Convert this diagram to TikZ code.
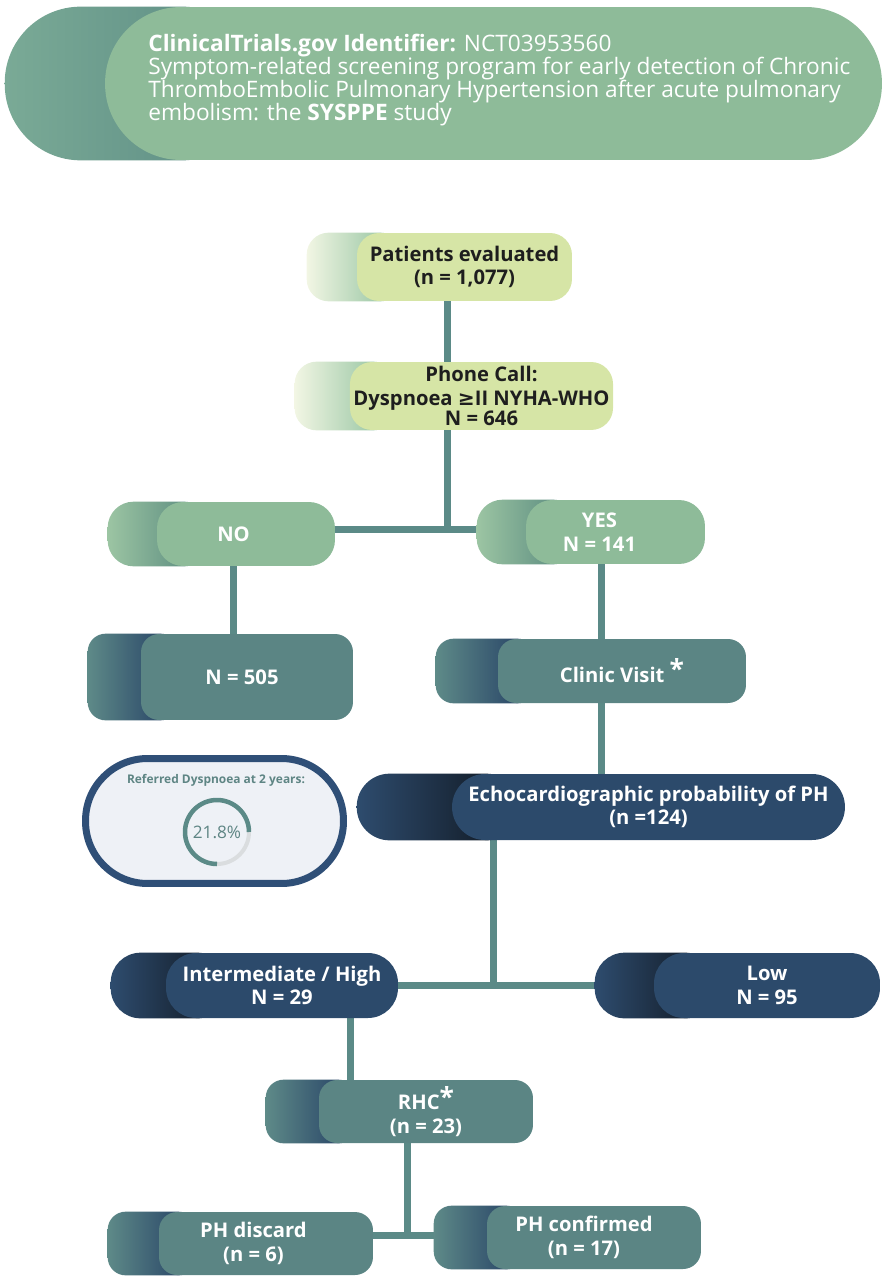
\documentclass[tikz,border=0pt]{standalone}
\usepackage{fontspec}
\setmainfont{Open Sans}
\newfontfamily\symfont{DejaVu Sans}
\usetikzlibrary{positioning}
\definecolor{ttlfront}{HTML}{8EBB99}
\definecolor{ttlbackA}{HTML}{7AAA96}
\definecolor{ttlbackB}{HTML}{5A8A83}
\definecolor{limefront}{HTML}{D6E5A6}
\definecolor{limebackA}{HTML}{F2F6E4}
\definecolor{limebackB}{HTML}{86BC96}
\definecolor{greenfront}{HTML}{8EBB99}
\definecolor{greenbackA}{HTML}{9CC5A3}
\definecolor{greenbackB}{HTML}{4F8179}
\definecolor{tealfront}{HTML}{5B8584}
\definecolor{tealbackA}{HTML}{5E8A88}
\definecolor{tealbackB}{HTML}{203A62}
\definecolor{navyfront}{HTML}{2C4A6B}
\definecolor{navybackA}{HTML}{2E4C6E}
\definecolor{navybackB}{HTML}{0E141C}
\definecolor{connteal}{HTML}{5B8A87}
\definecolor{panelfill}{HTML}{EEF1F6}
\definecolor{panelline}{HTML}{2F4F77}
\definecolor{paneltext}{HTML}{5E8584}
\definecolor{ringgray}{HTML}{DADDDF}
\definecolor{darktext}{HTML}{1E1E1E}
\pgfdeclarelayer{bg}
\pgfsetlayers{bg,main}
\tikzset{
    %Define style for boxes
    box/.style={
           rectangle,
           inner sep=2pt,
           align=center,
           font=\fontsize{11.5}{13.5}\selectfont\bfseries},
    titlebox/.style={
           rectangle,
           rounded corners=1.52cm,
           fill=ttlfront,
           minimum width=15.54cm,
           minimum height=3.06cm},
    titletext/.style={
           align=left,
           inner sep=0pt,
           text=white,
           font=\fontsize{12.9}{13.2}\selectfont},
    limebox/.style={
           box,
           rounded corners=.44cm,
           fill=limefront,
           text=darktext},
    greenbox/.style={
           box,
           rounded corners=.52cm,
           fill=greenfront,
           text=white},
    tealbox/.style={
           box,
           rounded corners=.36cm,
           fill=tealfront,
           text=white},
    navybox/.style={
           box,
           rounded corners=.6cm,
           fill=navyfront,
           text=white},
    % Define shading of the back layers
    ttlback/.style={left color=ttlbackA, right color=ttlbackB},
    limeback/.style={left color=limebackA, right color=limebackB},
    greenback/.style={left color=greenbackA, right color=greenbackB},
    tealback/.style={left color=tealbackA, right color=tealbackB},
    navyback/.style={left color=navybackA, right color=navybackB},
    % Define connector style
    conn/.style={
           draw=connteal,
           line width=.14cm},
    panel/.style={
           rectangle,
           rounded corners=1.24cm,
           draw=panelline,
           line width=.14cm,
           fill=panelfill},
    paneltxt/.style={
           inner sep=1pt,
           text=paneltext,
           font=\fontsize{6.8}{8}\selectfont\bfseries},
    pctlabel/.style={
           inner sep=1pt,
           text=paneltext,
           font=\fontsize{9.8}{11}\selectfont},
    ringbg/.style={draw=ringgray, line width=.08cm},
    ringfg/.style={draw=connteal, line width=.09cm}
}
\newcommand{\astx}{\raisebox{.35ex}{\fontsize{15}{15}\selectfont *}}
% pushes a centred line to the left
\newcommand{\lpad}[1]{\hspace*{#1}}

\begin{document}
\begin{tikzpicture}[x=0.02cm,y=-0.02cm]
\useasboundingbox (0,0) rectangle (890,1280);
% header
\node[titlebox](title) at (493.5,83.5){};
\node[titletext, anchor=west](titletxt) at (148,80){\textbf{ClinicalTrials.gov Identifier:} NCT03953560\\
Symptom-related screening program for early detection of Chronic\\
ThromboEmbolic Pulmonary Hypertension after acute pulmonary\\
embolism: the \textbf{SYSPPE} study};
% flow
\node[limebox, minimum width=4.3cm, minimum height=1.36cm](pe) at (464.5,267){Patients evaluated\\(n = 1,077)};
\node[limebox, minimum width=5.26cm, minimum height=1.36cm](pc) at (481.5,396){Phone Call:\\Dyspnoea {\symfont ≥}II NYHA-WHO\\[-2pt]N = 646};
\node[greenbox, minimum width=3.56cm, minimum height=1.28cm](no) at (246,534){NO\lpad{.5cm}};
\node[greenbox, minimum width=3.58cm, minimum height=1.28cm](yes) at (615.5,532){YES\lpad{.64cm}\\N = 141\lpad{.64cm}};
\node[tealbox, minimum width=4.24cm, minimum height=1.72cm](n505) at (247,677){N = 505\lpad{.2cm}};
\node[tealbox, minimum width=4.96cm, minimum height=1.28cm](clinic) at (622,671){Clinic Visit \astx};
\node[navybox, rounded corners=.66cm, minimum width=7.86cm, minimum height=1.32cm](echo) at (648.5,807){Echocardiographic probability of PH\\(n =124)};
\node[navybox, minimum width=4.64cm, minimum height=1.3cm](int) at (282,985.5){Intermediate / High\\N = 29};
\node[navybox, minimum width=4.52cm, minimum height=1.3cm](low) at (767,985.5){Low\\N = 95};
\node[tealbox, minimum width=4.28cm, minimum height=1.26cm](rhc) at (426,1111.5){RHC\astx\\(n = 23)};
\node[tealbox, minimum width=4.28cm, minimum height=1.26cm](disc) at (266,1243.5){PH discard\lpad{.5cm}\\(n = 6)\lpad{.5cm}};
\node[tealbox, minimum width=4.28cm, minimum height=1.26cm](conf) at (594,1237.5){PH confirmed\lpad{.4cm}\\(n = 17)\lpad{.4cm}};
% side panel
\node[panel, minimum width=5.16cm, minimum height=2.5cm](refbox) at (214.5,821){};
\node[paneltxt](reftxt) at (216,780){Referred Dyspnoea at 2 years:};
\node[pctlabel](pct) at (217,832){21.8\%};
\draw[ringbg] (pct.center) circle (.64cm);
\draw[ringfg] (pct.center) ++(0:.64cm) arc (0:270:.64cm);
% connectors and back layers
\begin{pgfonlayer}{bg}
\coordinate (j1) at (447,529);
\coordinate (j2) at (493,985);
\coordinate (j3) at (407,1235);
\draw[conn] (447,0 |- pe) -- (j1);
\draw[conn] (no |- j1) -- (yes |- j1);
\draw[conn] (233,0 |- no) -- (233,0 |- n505);
\draw[conn] (601,0 |- yes) -- (601,0 |- echo);
\draw[conn] (493,0 |- echo) -- (j2);
\draw[conn] (int |- j2) -- (low |- j2);
\draw[conn] (350,0 |- int) -- (350,0 |- rhc);
\draw[conn] (407,0 |- rhc) -- (j3);
\draw[conn] (disc |- j3) -- (conf |- j3);
\foreach \n/\d/\r/\s in {title/2.0/1.52/ttlback, pe/1.0/.44/limeback, pc/1.1/.44/limeback,
    no/.98/.52/greenback, yes/.98/.52/greenback, n505/1.06/.36/tealback,
    clinic/1.24/.36/tealback, echo/1.9/.66/navyback, int/1.1/.6/navyback,
    low/1.18/.6/navyback, rhc/1.06/.36/tealback, disc/1.02/.36/tealback,
    conf/1.06/.36/tealback}
  \path[\s, rounded corners=\r cm] ([xshift=-\d cm]\n.north west) rectangle ([xshift=2*\r cm+1pt]\n.south west);
\end{pgfonlayer}
\end{tikzpicture}
\end{document}
